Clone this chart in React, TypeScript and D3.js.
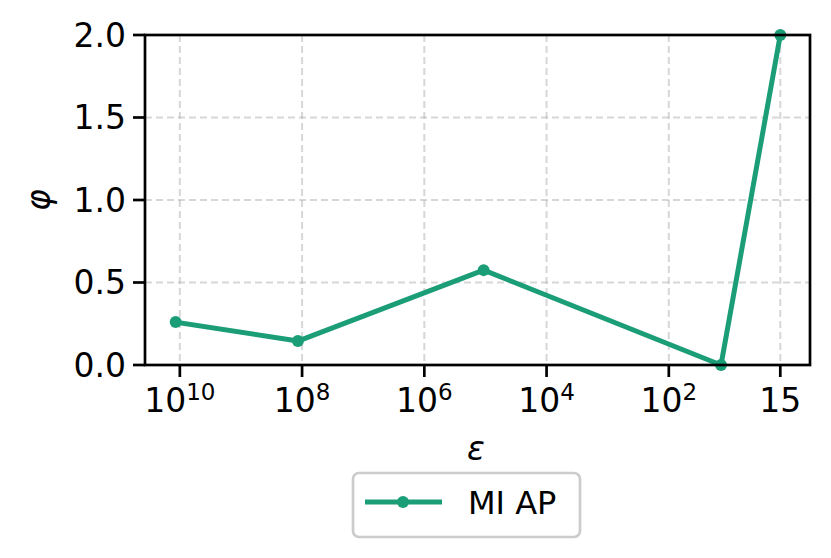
import React from "react";
import * as d3 from "d3";

const xValues = [1.17e10, 1.17e8, 1.07e5, 14, 1.5];
const yValues = [0.26, 0.145, 0.575, 0.0, 2.0];
const xTickValues = [1e10, 1e8, 1e6, 1e4, 1e2, 1.5];
const xTickBase = ["10", "10", "10", "10", "10", "15"];
const xTickExp = ["10", "8", "6", "4", "2", ""];
const yTickValues = [0, 0.5, 1.0, 1.5, 2.0];
const seriesName = "MI AP";

const W = 831, H = 558;
const left = 145, right = 810, top = 35, bottom = 365;
const color = "#1b9e77";
const font = "DejaVu Sans, sans-serif";

export default function App() {
  const x = d3.scaleLog().domain([Math.pow(10, 10.57), Math.pow(10, -0.31)]).range([left, right]);
  const y = d3.scaleLinear().domain([0, 2]).range([bottom, top]);
  const pts: [number, number][] = xValues.map((v, i) => [x(v), y(yValues[i])]);
  const line = d3.line()(pts) || "";
  return (
    <svg width={W} height={H} style={{ position: "absolute", left: 0, top: 0 }} fontFamily={font}>
      <rect width={W} height={H} fill="white" />
      <defs>
        <clipPath id="plot">
          <rect x={left} y={top - 8} width={right - left} height={bottom - top + 16} />
        </clipPath>
      </defs>
      {xTickValues.map((v, i) => (
        <line key={"gx" + i} x1={x(v)} x2={x(v)} y1={top} y2={bottom} stroke="#b0b0b0" strokeOpacity={0.5} strokeWidth={2} strokeDasharray="7,4" />
      ))}
      {yTickValues.map((v, i) => (
        <line key={"gy" + i} x1={left} x2={right} y1={y(v)} y2={y(v)} stroke="#b0b0b0" strokeOpacity={0.5} strokeWidth={2} strokeDasharray="7,4" />
      ))}
      <g clipPath="url(#plot)">
        <path d={line} fill="none" stroke={color} strokeWidth={5} strokeLinejoin="round" strokeLinecap="square" />
        {pts.map((p, i) => (
          <circle key={"m" + i} cx={p[0]} cy={p[1]} r={6} fill={color} />
        ))}
      </g>
      <rect x={left} y={top} width={right - left} height={bottom - top} fill="none" stroke="black" strokeWidth={2.7} />
      {xTickValues.map((v, i) => (
        <g key={"xt" + i}>
          <line x1={x(v)} x2={x(v)} y1={bottom} y2={bottom + 12} stroke="black" strokeWidth={2.7} />
          <text x={x(v)} y={412} fontSize={33} textAnchor="middle" fill="black">
            {xTickBase[i]}
            {xTickExp[i] && <tspan fontSize={23} dy={-12}>{xTickExp[i]}</tspan>}
          </text>
        </g>
      ))}
      {yTickValues.map((v, i) => (
        <g key={"yt" + i}>
          <line x1={left - 12} x2={left} y1={y(v)} y2={y(v)} stroke="black" strokeWidth={2.7} />
          <text x={left - 19} y={y(v)} dy="0.36em" fontSize={33} textAnchor="end" fill="black">
            {v.toFixed(1)}
          </text>
        </g>
      ))}
      <text x={476} y={460} fontSize={33} textAnchor="middle" fontStyle="italic" fill="black">ε</text>
      <text transform="translate(50,200) rotate(-90)" fontSize={33} textAnchor="middle" fontStyle="italic" fill="black">φ</text>
      <rect x={353} y={473} width={227} height={64} rx={6} fill="white" stroke="#cccccc" strokeWidth={2.7} />
      <line x1={365} x2={442} y1={502} y2={502} stroke={color} strokeWidth={5} />
      <circle cx={403} cy={502} r={6} fill={color} />
      <text x={468} y={514} fontSize={32} fill="black">{seriesName}</text>
    </svg>
  );
}
